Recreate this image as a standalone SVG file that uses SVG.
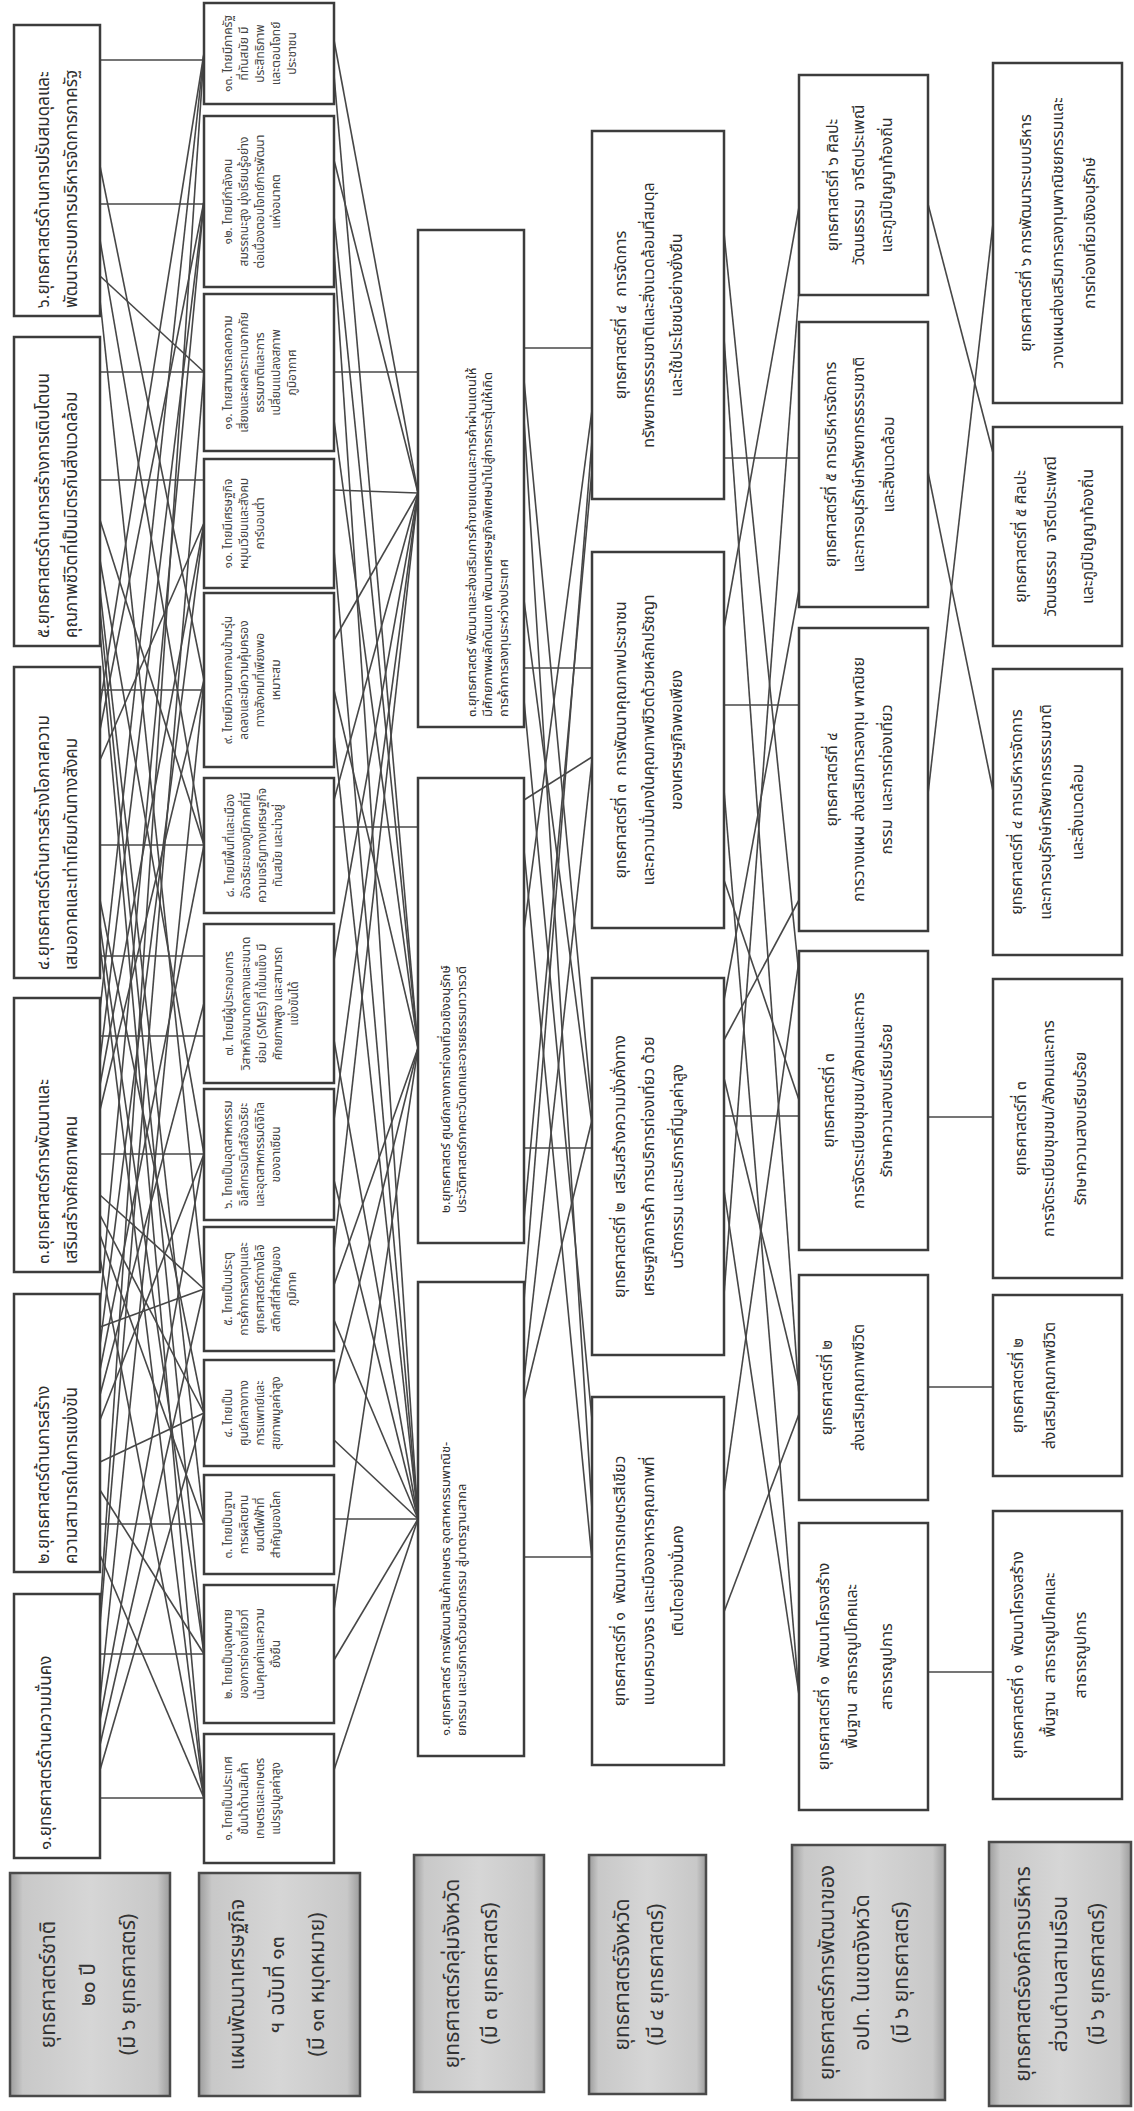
<svg xmlns="http://www.w3.org/2000/svg" width="1134" height="2111" viewBox="0 0 1134 2111">
<defs>
<linearGradient id="hg" x1="0" y1="0" x2="1" y2="0">
<stop offset="0" stop-color="#9c9c9c"/><stop offset="0.08" stop-color="#c8c8c8"/><stop offset="0.5" stop-color="#d6d6d6"/><stop offset="0.92" stop-color="#c8c8c8"/><stop offset="1" stop-color="#9c9c9c"/>
</linearGradient>
<style>
.b{fill:#fff;stroke:#3c3c3c;stroke-width:2.5}
.h{fill:url(#hg);stroke:#4a4a4a;stroke-width:2.5}
#connectors line{stroke:#474747;stroke-width:1.6}
text{font-family:'Noto Sans Thai','Noto Sans','DejaVu Sans',sans-serif;fill:#2e2e2e;text-anchor:middle;dominant-baseline:central;white-space:pre}
.s text{text-anchor:start}
.f1 text{font-size:17px}
.f2 text{font-size:12px;fill:#444}
.f3 text{font-size:13px}
.f4 text{font-size:16px}
.fh text{font-size:21px;fill:#333}
</style>
</defs>
<rect width="1134" height="2111" fill="#fff"/>
<g id="connectors">
<line x1="100" y1="1798" x2="204" y2="1798"/><line x1="100" y1="1555" x2="204" y2="1798"/><line x1="100" y1="1258" x2="204" y2="1798"/><line x1="100" y1="945" x2="204" y2="1798"/><line x1="100" y1="632" x2="204" y2="1798"/>
<line x1="100" y1="1654" x2="204" y2="1654"/><line x1="100" y1="1490" x2="204" y2="1654"/><line x1="100" y1="925" x2="204" y2="1654"/><line x1="100" y1="610" x2="204" y2="1654"/>
<line x1="100" y1="1524" x2="204" y2="1524"/><line x1="100" y1="1235" x2="204" y2="1524"/><line x1="100" y1="590" x2="204" y2="1524"/>
<line x1="100" y1="1462" x2="204" y2="1413"/><line x1="100" y1="1215" x2="204" y2="1413"/><line x1="100" y1="900" x2="204" y2="1413"/><line x1="100" y1="1770" x2="204" y2="1413"/>
<line x1="100" y1="1327" x2="204" y2="1289"/><line x1="100" y1="1745" x2="204" y2="1289"/><line x1="100" y1="1195" x2="204" y2="1289"/><line x1="100" y1="300" x2="204" y2="1289"/>
<line x1="100" y1="1154" x2="204" y2="1154"/><line x1="100" y1="1420" x2="204" y2="1154"/><line x1="100" y1="560" x2="204" y2="1154"/><line x1="100" y1="1720" x2="204" y2="1154"/>
<line x1="100" y1="956" x2="204" y2="956"/><line x1="100" y1="1036" x2="204" y2="1036"/><line x1="100" y1="1395" x2="204" y2="1003"/>
<line x1="100" y1="845" x2="204" y2="845"/><line x1="100" y1="1370" x2="204" y2="845"/><line x1="100" y1="520" x2="204" y2="845"/><line x1="100" y1="240" x2="204" y2="845"/>
<line x1="100" y1="690" x2="204" y2="690"/><line x1="100" y1="1110" x2="204" y2="680"/><line x1="100" y1="1700" x2="204" y2="680"/><line x1="100" y1="166" x2="204" y2="680"/>
<line x1="100" y1="480" x2="204" y2="480"/><line x1="100" y1="1345" x2="204" y2="523"/><line x1="100" y1="1085" x2="204" y2="523"/><line x1="100" y1="760" x2="204" y2="523"/>
<line x1="100" y1="372" x2="204" y2="372"/><line x1="100" y1="276" x2="204" y2="372"/><line x1="100" y1="1625" x2="204" y2="372"/>
<line x1="100" y1="204" x2="204" y2="204"/><line x1="100" y1="1060" x2="204" y2="201"/><line x1="100" y1="730" x2="204" y2="201"/><line x1="100" y1="1305" x2="204" y2="201"/>
<line x1="100" y1="60" x2="204" y2="60"/><line x1="100" y1="1612" x2="204" y2="53"/><line x1="100" y1="705" x2="204" y2="53"/><line x1="100" y1="1010" x2="204" y2="53"/>
<line x1="334" y1="40" x2="418" y2="493"/><line x1="334" y1="75" x2="418" y2="1048"/>
<line x1="334" y1="160" x2="418" y2="493"/><line x1="334" y1="216" x2="418" y2="1048"/><line x1="334" y1="250" x2="418" y2="1519"/>
<line x1="334" y1="372" x2="418" y2="372"/><line x1="334" y1="420" x2="418" y2="1048"/>
<line x1="334" y1="490" x2="418" y2="493"/><line x1="334" y1="550" x2="418" y2="1519"/>
<line x1="334" y1="640" x2="418" y2="493"/><line x1="334" y1="690" x2="418" y2="1048"/><line x1="334" y1="735" x2="418" y2="1519"/>
<line x1="334" y1="800" x2="418" y2="493"/><line x1="334" y1="827" x2="418" y2="827"/>
<line x1="334" y1="960" x2="418" y2="493"/><line x1="334" y1="1040" x2="418" y2="1519"/>
<line x1="334" y1="1120" x2="418" y2="493"/><line x1="334" y1="1180" x2="418" y2="1519"/>
<line x1="334" y1="1250" x2="418" y2="493"/><line x1="334" y1="1285" x2="418" y2="1048"/><line x1="334" y1="1320" x2="418" y2="1519"/>
<line x1="334" y1="1385" x2="418" y2="1048"/><line x1="334" y1="1440" x2="418" y2="1519"/>
<line x1="334" y1="1519" x2="418" y2="1519"/>
<line x1="334" y1="1610" x2="418" y2="1048"/><line x1="334" y1="1660" x2="418" y2="1519"/>
<line x1="334" y1="1770" x2="418" y2="1519"/>
<line x1="524" y1="348" x2="592" y2="348"/><line x1="524" y1="668" x2="592" y2="668"/><line x1="524" y1="380" x2="592" y2="1110"/><line x1="524" y1="420" x2="592" y2="1510"/><line x1="524" y1="600" x2="592" y2="1125"/><line x1="524" y1="700" x2="592" y2="1420"/>
<line x1="524" y1="1148" x2="592" y2="1148"/><line x1="524" y1="800" x2="592" y2="757"/><line x1="524" y1="850" x2="592" y2="1560"/><line x1="524" y1="1220" x2="592" y2="470"/><line x1="524" y1="930" x2="592" y2="410"/>
<line x1="524" y1="1557" x2="592" y2="1557"/><line x1="524" y1="1380" x2="592" y2="760"/><line x1="524" y1="1400" x2="592" y2="1120"/><line x1="524" y1="1300" x2="592" y2="440"/>
<line x1="724" y1="458" x2="799" y2="458"/><line x1="724" y1="233" x2="799" y2="975"/><line x1="724" y1="338" x2="799" y2="1395"/>
<line x1="724" y1="705" x2="799" y2="705"/><line x1="724" y1="628" x2="799" y2="207"/><line x1="724" y1="790" x2="799" y2="1695"/><line x1="724" y1="880" x2="799" y2="1100"/>
<line x1="724" y1="1116" x2="799" y2="1116"/><line x1="724" y1="1000" x2="799" y2="590"/><line x1="724" y1="1078" x2="799" y2="1387"/><line x1="724" y1="1190" x2="799" y2="1695"/><line x1="724" y1="1295" x2="799" y2="290"/><line x1="724" y1="1040" x2="799" y2="900"/>
<line x1="724" y1="1612" x2="799" y2="1414"/><line x1="724" y1="1493" x2="799" y2="960"/>
<line x1="928" y1="204" x2="993" y2="453"/><line x1="928" y1="472" x2="993" y2="791"/><line x1="928" y1="794" x2="993" y2="223"/><line x1="928" y1="1117" x2="993" y2="1117"/><line x1="928" y1="1387" x2="993" y2="1387"/><line x1="928" y1="1672" x2="993" y2="1672"/>
</g>

<g id="hdr1"><rect class="h" x="10" y="1873" width="160" height="223"/><g class="fh" transform="translate(10,1984.5) rotate(-90)"><text y="38">ยุทธศาสตร์ชาติ</text><text y="78">๒๐ ปี</text><text y="118">(มี ๖ ยุทธศาสตร์)</text></g></g>
<g id="hdr2"><rect class="h" x="199" y="1873" width="161" height="223"/><g class="fh" transform="translate(199,1984.5) rotate(-90)"><text y="38">แผนพัฒนาเศรษฐกิจ</text><text y="78">ฯ ฉบับที่ ๑๓</text><text y="118">(มี ๑๓ หมุดหมาย)</text></g></g>
<g id="hdr3"><rect class="h" x="414" y="1855" width="130" height="237"/><g class="fh" transform="translate(414,1973.5) rotate(-90)"><text y="38">ยุทธศาสตร์กลุ่มจังหวัด</text><text y="76">(มี ๓ ยุทธศาสตร์)</text></g></g>
<g id="hdr4"><rect class="h" x="589" y="1855" width="117" height="239"/><g class="fh" transform="translate(589,1974.5) rotate(-90)"><text y="33">ยุทธศาสตร์จังหวัด</text><text y="67">(มี ๔ ยุทธศาสตร์)</text></g></g>
<g id="hdr5"><rect class="h" x="792" y="1845" width="153" height="255"/><g class="fh" transform="translate(792,1972.5) rotate(-90)"><text y="35">ยุทธศาสตร์การพัฒนาของ</text><text y="70">อปท. ในเขตจังหวัด</text><text y="109">(มี ๖ ยุทธศาสตร์)</text></g></g>
<g id="hdr6"><rect class="h" x="989" y="1842" width="142" height="264"/><g class="fh" transform="translate(989,1974) rotate(-90)"><text y="34">ยุทธศาสตร์องค์การบริหาร</text><text y="71">ส่วนตำบลสามเรือน</text><text y="108">(มี ๖ ยุทธศาสตร์)</text></g></g>

<g id="ns6"><rect class="b" x="14" y="25" width="86" height="291"/><g class="f1 s" transform="translate(14,308) rotate(-90)"><text y="30">๖.ยุทธศาสตร์ด้านการปรับสมดุลและ</text><text y="58">พัฒนาระบบการบริหารจัดการภาครัฐ</text></g></g>
<g id="ns5"><rect class="b" x="14" y="337" width="86" height="309"/><g class="f1 s" transform="translate(14,638) rotate(-90)"><text y="30">๕.ยุทธศาสตร์ด้านการสร้างการเติบโตบน</text><text y="58">คุณภาพชีวิตที่เป็นมิตรกับสิ่งแวดล้อม</text></g></g>
<g id="ns4"><rect class="b" x="14" y="667" width="86" height="311"/><g class="f1 s" transform="translate(14,970) rotate(-90)"><text y="30">๔.ยุทธศาสตร์ด้านการสร้างโอกาสความ</text><text y="58">เสมอภาคและเท่าเทียมกันทางสังคม</text></g></g>
<g id="ns3"><rect class="b" x="14" y="998" width="86" height="274"/><g class="f1 s" transform="translate(14,1264) rotate(-90)"><text y="30">๓.ยุทธศาสตร์การพัฒนาและ</text><text y="58">เสริมสร้างศักยภาพคน</text></g></g>
<g id="ns2"><rect class="b" x="14" y="1294" width="86" height="278"/><g class="f1 s" transform="translate(14,1564) rotate(-90)"><text y="30">๒.ยุทธศาสตร์ด้านการสร้าง</text><text y="58">ความสามารถในการแข่งขัน</text></g></g>
<g id="ns1"><rect class="b" x="14" y="1594" width="86" height="264"/><g class="f1 s" transform="translate(14,1850) rotate(-90)"><text y="32">๑.ยุทธศาสตร์ด้านความมั่นคง</text></g></g>

<g id="m13"><rect class="b" x="204" y="3" width="130" height="101"/><g class="f2" transform="translate(204,53.5) rotate(-90)"><text y="24">๑๓. ไทยมีภาครัฐ</text><text y="40">ที่ทันสมัย มี</text><text y="56">ประสิทธิภาพ</text><text y="72">และตอบโจทย์</text><text y="88">ประชาชน</text></g></g>
<g id="m12"><rect class="b" x="204" y="116" width="130" height="171"/><g class="f2" transform="translate(204,201.5) rotate(-90)"><text y="24">๑๒. ไทยมีกำลังคน</text><text y="40">สมรรถนะสูง มุ่งเรียนรู้อย่าง</text><text y="56">ต่อเนื่องตอบโจทย์การพัฒนา</text><text y="72">แห่งอนาคต</text></g></g>
<g id="m11"><rect class="b" x="204" y="294" width="130" height="157"/><g class="f2" transform="translate(204,372.5) rotate(-90)"><text y="24">๑๑. ไทยสามารถลดความ</text><text y="40">เสี่ยงและผลกระทบจากภัย</text><text y="56">ธรรมชาติและการ</text><text y="72">เปลี่ยนแปลงสภาพ</text><text y="88">ภูมิอากาศ</text></g></g>
<g id="m10"><rect class="b" x="204" y="459" width="130" height="129"/><g class="f2" transform="translate(204,523.5) rotate(-90)"><text y="24">๑๐. ไทยมีเศรษฐกิจ</text><text y="40">หมุนเวียนและสังคม</text><text y="56">คาร์บอนต่ำ</text></g></g>
<g id="m9"><rect class="b" x="204" y="593" width="130" height="174"/><g class="f2" transform="translate(204,680) rotate(-90)"><text y="24">๙. ไทยมีความยากจนข้ามรุ่น</text><text y="40">ลดลงและมีความคุ้มครอง</text><text y="56">ทางสังคมที่เพียงพอ</text><text y="72">เหมาะสม</text></g></g>
<g id="m8"><rect class="b" x="204" y="778" width="130" height="135"/><g class="f2" transform="translate(204,845.5) rotate(-90)"><text y="26">๘. ไทยมีพื้นที่และเมือง</text><text y="42">อัจฉริยะของภูมิภาคที่มี</text><text y="58">ความเจริญทางเศรษฐกิจ</text><text y="74">ทันสมัย และน่าอยู่</text></g></g>
<g id="m7"><rect class="b" x="204" y="924" width="130" height="159"/><g class="f2" transform="translate(204,1003.5) rotate(-90)"><text y="25">๗. ไทยมีผู้ประกอบการ</text><text y="42">วิสาหกิจขนาดกลางและขนาด</text><text y="58">ย่อม (SMEs) ที่เข้มแข็ง มี</text><text y="74">ศักยภาพสูง และสามารถ</text><text y="90">แข่งขันได้</text></g></g>
<g id="m6"><rect class="b" x="204" y="1089" width="130" height="131"/><g class="f2" transform="translate(204,1154.5) rotate(-90)"><text y="24">๖. ไทยเป็นอุตสาหกรรม</text><text y="40">อิเล็กทรอนิกส์อัจฉริยะ</text><text y="56">และอุตสาหกรรมดิจิทัล</text><text y="72">ของอาเซียน</text></g></g>
<g id="m5"><rect class="b" x="204" y="1227" width="130" height="124"/><g class="f2" transform="translate(204,1289) rotate(-90)"><text y="24">๕. ไทยเป็นประตู</text><text y="40">การค้าการลงทุนและ</text><text y="56">ยุทธศาสตร์ทางโลจิ</text><text y="72">สติกส์ที่สำคัญของ</text><text y="88">ภูมิภาค</text></g></g>
<g id="m4"><rect class="b" x="204" y="1360" width="130" height="106"/><g class="f2" transform="translate(204,1413) rotate(-90)"><text y="24">๔. ไทยเป็น</text><text y="40">ศูนย์กลางทาง</text><text y="56">การแพทย์และ</text><text y="72">สุขภาพมูลค่าสูง</text></g></g>
<g id="m3"><rect class="b" x="204" y="1475" width="130" height="99"/><g class="f2" transform="translate(204,1524.5) rotate(-90)"><text y="24">๓. ไทยเป็นฐาน</text><text y="40">การผลิตยาน</text><text y="56">ยนต์ไฟฟ้าที่</text><text y="72">สำคัญของโลก</text></g></g>
<g id="m2"><rect class="b" x="204" y="1585" width="130" height="138"/><g class="f2" transform="translate(204,1654) rotate(-90)"><text y="24">๒. ไทยเป็นจุดหมาย</text><text y="40">ของการท่องเที่ยวที่</text><text y="56">เน้นคุณค่าและความ</text><text y="72">ยั่งยืน</text></g></g>
<g id="m1"><rect class="b" x="204" y="1734" width="130" height="129"/><g class="f2" transform="translate(204,1798.5) rotate(-90)"><text y="24">๑. ไทยเป็นประเทศ</text><text y="40">ชั้นนำด้านสินค้า</text><text y="56">เกษตรและเกษตร</text><text y="72">แปรรูปมูลค่าสูง</text></g></g>

<g id="g3"><rect class="b" x="418" y="230" width="106" height="497"/><g class="f3 s" transform="translate(418,717) rotate(-90)"><text y="54">๓.ยุทธศาสตร์ พัฒนาและส่งเสริมการค้าชายแดนและการค้าผ่านแดนให้</text><text y="70">มีศักยภาพผลักดันเขต พัฒนาเศรษฐกิจพิเศษนำไปสู่การกระตุ้นให้เกิด</text><text y="86">การค้าการลงทุนระหว่างประเทศ</text></g></g>
<g id="g2"><rect class="b" x="418" y="778" width="106" height="465"/><g class="f3 s" transform="translate(418,1213) rotate(-90)"><text y="28">๒.ยุทธศาสตร์ ศูนย์กลางการท่องเที่ยวเชิงอนุรักษ์</text><text y="44">ประวัติศาสตร์ภาคตะวันตกและอารยธรรมทวารวดี</text></g></g>
<g id="g1"><rect class="b" x="418" y="1282" width="106" height="474"/><g class="f3 s" transform="translate(418,1736) rotate(-90)"><text y="28">๑.ยุทธศาสตร์ การพัฒนาสินค้าเกษตร อุตสาหกรรมพาณิช-</text><text y="44">ยกรรม และบริการด้วยนวัตกรรม สู่มาตรฐานสากล</text></g></g>

<g id="p4"><rect class="b" x="592" y="131" width="132" height="368"/><g class="f4" transform="translate(592,315) rotate(-90)"><text y="29">ยุทธศาสตร์ที่ ๔  การจัดการ</text><text y="57">ทรัพยากรธรรมชาติและสิ่งแวดล้อมที่สมดุล</text><text y="85">และใช้ประโยชน์อย่างยั่งยืน</text></g></g>
<g id="p3"><rect class="b" x="592" y="552" width="132" height="376"/><g class="f4" transform="translate(592,740) rotate(-90)"><text y="29">ยุทธศาสตร์ที่ ๓  การพัฒนาคุณภาพประชาชน</text><text y="57">และความมั่นคงในคุณภาพชีวิตด้วยหลักปรัชญา</text><text y="85">ของเศรษฐกิจพอเพียง</text></g></g>
<g id="p2"><rect class="b" x="592" y="978" width="132" height="377"/><g class="f4" transform="translate(592,1166.5) rotate(-90)"><text y="28">ยุทธศาสตร์ที่ ๒  เสริมสร้างความมั่งคั่งทาง</text><text y="57">เศรษฐกิจการค้า การบริการท่องเที่ยว ด้วย</text><text y="86">นวัตกรรม และบริการที่มีมูลค่าสูง</text></g></g>
<g id="p1"><rect class="b" x="592" y="1397" width="132" height="368"/><g class="f4" transform="translate(592,1581) rotate(-90)"><text y="28">ยุทธศาสตร์ที่ ๑  พัฒนาการเกษตรสีเขียว</text><text y="57">แบบครบวงจร และเมืองอาหารคุณภาพที่</text><text y="86">เติบโตอย่างมั่นคง</text></g></g>

<g id="l6"><rect class="b" x="799" y="75" width="129" height="220"/><g class="f4" transform="translate(799,185) rotate(-90)"><text y="34">ยุทธศาสตร์ที่ ๖ ศิลปะ</text><text y="60">วัฒนธรรม  จารีตประเพณี</text><text y="88">และภูมิปัญญาท้องถิ่น</text></g></g>
<g id="l5"><rect class="b" x="799" y="322" width="129" height="285"/><g class="f4" transform="translate(799,464.5) rotate(-90)"><text y="32">ยุทธศาสตร์ที่ ๕ การบริหารจัดการ</text><text y="60">และการอนุรักษ์ทรัพยากรธรรมชาติ</text><text y="90">และสิ่งแวดล้อม</text></g></g>
<g id="l4"><rect class="b" x="799" y="628" width="129" height="303"/><g class="f4" transform="translate(799,779.5) rotate(-90)"><text y="33">ยุทธศาสตร์ที่ ๔</text><text y="60">การวางแผน ส่งเสริมการลงทุน พาณิชย</text><text y="88">กรรม  และการท่องเที่ยว</text></g></g>
<g id="l3"><rect class="b" x="799" y="951" width="129" height="299"/><g class="f4" transform="translate(799,1100.5) rotate(-90)"><text y="30">ยุทธศาสตร์ที่ ๓</text><text y="60">การจัดระเบียบชุมชน/สังคมและการ</text><text y="88">รักษาความสงบเรียบร้อย</text></g></g>
<g id="l2"><rect class="b" x="799" y="1275" width="129" height="225"/><g class="f4" transform="translate(799,1387.5) rotate(-90)"><text y="28">ยุทธศาสตร์ที่ ๒</text><text y="60">ส่งเสริมคุณภาพชีวิต</text></g></g>
<g id="l1"><rect class="b" x="799" y="1523" width="129" height="287"/><g class="f4" transform="translate(799,1666.5) rotate(-90)"><text y="25">ยุทธศาสตร์ที่ ๑  พัฒนาโครงสร้าง</text><text y="53">พื้นฐาน  สาธารณูปโภคและ</text><text y="88">สาธารณูปการ</text></g></g>

<g id="t6"><rect class="b" x="993" y="63" width="129" height="340"/><g class="f4" transform="translate(993,233) rotate(-90)"><text y="33">ยุทธศาสตร์ที่ ๖ การพัฒนาระบบบริหาร</text><text y="65">วางแผนส่งเสริมการลงทุนพาณิชยกรรมและ</text><text y="97">การท่องเที่ยวเชิงอนุรักษ์</text></g></g>
<g id="t5"><rect class="b" x="993" y="427" width="129" height="219"/><g class="f4" transform="translate(993,536.5) rotate(-90)"><text y="28">ยุทธศาสตร์ที่ ๕ ศิลปะ</text><text y="58">วัฒนธรรม  จารีตประเพณี</text><text y="95">และภูมิปัญญาท้องถิ่น</text></g></g>
<g id="t4"><rect class="b" x="993" y="669" width="129" height="286"/><g class="f4" transform="translate(993,812) rotate(-90)"><text y="24">ยุทธศาสตร์ที่ ๔ การบริหารจัดการ</text><text y="53">และการอนุรักษ์ทรัพยากรธรรมชาติ</text><text y="85">และสิ่งแวดล้อม</text></g></g>
<g id="t3"><rect class="b" x="993" y="979" width="129" height="299"/><g class="f4" transform="translate(993,1128.5) rotate(-90)"><text y="28">ยุทธศาสตร์ที่ ๓</text><text y="56">การจัดระเบียบชุมชน/สังคมและการ</text><text y="88">รักษาความสงบเรียบร้อย</text></g></g>
<g id="t2"><rect class="b" x="993" y="1295" width="129" height="181"/><g class="f4" transform="translate(993,1385.5) rotate(-90)"><text y="25">ยุทธศาสตร์ที่ ๒</text><text y="57">ส่งเสริมคุณภาพชีวิต</text></g></g>
<g id="t1"><rect class="b" x="993" y="1511" width="129" height="288"/><g class="f4" transform="translate(993,1655) rotate(-90)"><text y="25">ยุทธศาสตร์ที่ ๑  พัฒนาโครงสร้าง</text><text y="57">พื้นฐาน  สาธารณูปโภคและ</text><text y="88">สาธารณูปการ</text></g></g>
</svg>
